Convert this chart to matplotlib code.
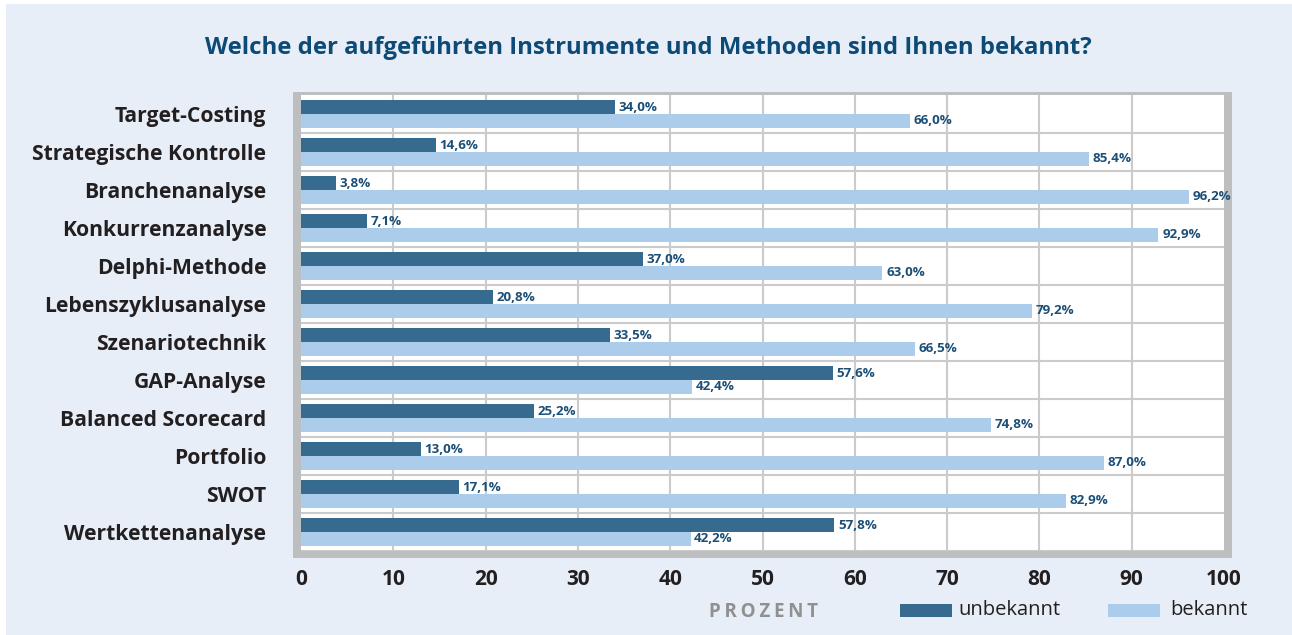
import matplotlib
matplotlib.use("Agg")
import matplotlib.pyplot as plt
from matplotlib.patches import Rectangle

categories = ["Target-Costing", "Strategische Kontrolle", "Branchenanalyse",
              "Konkurrenzanalyse", "Delphi-Methode", "Lebenszyklusanalyse",
              "Szenariotechnik", "GAP-Analyse", "Balanced Scorecard",
              "Portfolio", "SWOT", "Wertkettenanalyse"]
unbekannt = [34.0, 14.6, 3.8, 7.1, 37.0, 20.8, 33.5, 57.6, 25.2, 13.0, 17.1, 57.8]
bekannt = [66.0, 85.4, 96.2, 92.9, 63.0, 79.2, 66.5, 42.4, 74.8, 87.0, 82.9, 42.2]
xticks = [0, 10, 20, 30, 40, 50, 60, 70, 80, 90, 100]
title = "Welche der aufgeführten Instrumente und Methoden sind Ihnen bekannt?"
series_names = ["unbekannt", "bekannt"]

W, H = 1292, 635
FONT = ["Open Sans", "DejaVu Sans"]
plt.rcParams["font.family"] = FONT

C_DARK = "#366a8e"
C_LIGHT = "#abcdeb"
C_BG = "#e7eef8"
C_FRAME = "#bdbebf"
C_GRID = "#cbcbcb"
C_TITLE = "#0d4a75"
C_TEXT = "#231f20"
C_VAL = "#1b4f78"

fig = plt.figure(figsize=(W / 100, H / 100), dpi=100)
fig.patch.set_facecolor("white")

def fx(px):
    return px / W

def fy(py):
    return 1 - py / H

# background panel
fig.patches.append(Rectangle((fx(6), 0), fx(W - 6), fy(4), transform=fig.transFigure,
                             facecolor=C_BG, edgecolor="none", zorder=-10))
# gray frame around plot area
fig.patches.append(Rectangle((fx(293), fy(558)), fx(1232 - 293), (558 - 92) / H,
                             transform=fig.transFigure, facecolor=C_FRAME,
                             edgecolor="none", zorder=-5))

ax = fig.add_axes([fx(301), fy(551), fx(1224 - 301), (551 - 95) / H])
ax.set_facecolor("white")
for s in ax.spines.values():
    s.set_visible(False)

n = len(categories)
ys = list(range(n))
bh = 0.368
off = 0.184
ax.barh([y - off for y in ys], unbekannt, height=bh, color=C_DARK, zorder=3)
ax.barh([y + off for y in ys], bekannt, height=bh, color=C_LIGHT, zorder=3)

def fmt(v):
    return f"{v:.1f}%".replace(".", ",")

for y, u, b in zip(ys, unbekannt, bekannt):
    ax.text(u + 0.4, y - off, fmt(u), va="center", ha="left", fontsize=9.6,
            fontweight="bold", color=C_VAL, zorder=5)
    ax.text(b + 0.4, y + off, fmt(b), va="center", ha="left", fontsize=9.6,
            fontweight="bold", color=C_VAL, zorder=5)

ax.set_xlim(0, 100)
ax.set_ylim(n - 0.5, -0.5)
for x in xticks[1:-1]:
    ax.axvline(x, color=C_GRID, lw=1.5, zorder=1)
for i in range(n):
    ax.axhline(i + 0.5, color=C_GRID, lw=1.5, zorder=1)

ax.set_yticks(ys)
ax.set_yticklabels(categories, fontsize=15.2, fontweight="bold", color=C_TEXT)
ax.set_xticks(xticks)
ax.set_xticklabels([str(t) for t in xticks], fontsize=15, fontweight="bold", color=C_TEXT)
ax.tick_params(axis="y", length=0, pad=25)
ax.tick_params(axis="x", length=0, pad=13)

fig.text(fx(648), fy(48), title, ha="center", va="center", fontsize=17.2,
         fontweight="bold", color=C_TITLE)

fig.text(fx(763), fy(612), "\u2009".join("PROZENT"), ha="center", va="center",
         fontsize=13.5, fontweight="bold", color="#909090", family=FONT)

# legend
fig.patches.append(Rectangle((fx(900), fy(617)), fx(52), 13 / H, transform=fig.transFigure,
                             facecolor=C_DARK, edgecolor="none"))
fig.text(fx(958), fy(610), series_names[0], ha="left", va="center", fontsize=14.5,
         color=C_TEXT)
fig.patches.append(Rectangle((fx(1108), fy(617)), fx(52), 13 / H, transform=fig.transFigure,
                             facecolor=C_LIGHT, edgecolor="none"))
fig.text(fx(1170), fy(610), series_names[1], ha="left", va="center", fontsize=14.5,
         color=C_TEXT)

fig.savefig("out.png", dpi=100, facecolor=fig.get_facecolor())
